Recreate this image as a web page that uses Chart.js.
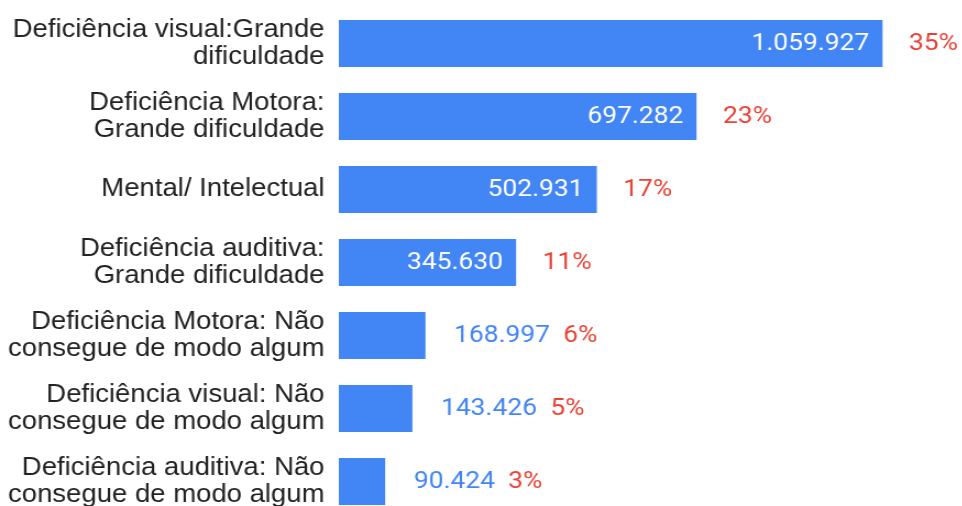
<!DOCTYPE html>
<html>
<head>
<meta charset="utf-8">
<script src="https://cdn.jsdelivr.net/npm/chart.js@4/dist/chart.umd.min.js"></script>
<style>
  html, body { margin: 0; padding: 0; background: #fff; overflow: hidden; }
  /* a imagem original é levemente esticada na horizontal */
  #wrap { position: relative; width: 875px; height: 520px; transform: scaleX(1.1); transform-origin: 0 0; }
</style>
</head>
<body>
<div id="wrap"><canvas id="myChart"></canvas></div>
<script>
// categorias (rótulos do eixo, quebrados em linhas)
var categorias = [
    ['Deficiência visual:Grande', 'dificuldade'],
    ['Deficiência Motora:', 'Grande dificuldade'],
    'Mental/ Intelectual',
    ['Deficiência auditiva:', 'Grande dificuldade'],
    ['Deficiência Motora: Não', 'consegue de modo algum'],
    ['Deficiência visual: Não', 'consegue de modo algum'],
    ['Deficiência auditiva: Não', 'consegue de modo algum']
];
var valores = [1059927, 697282, 502931, 345630, 168997, 143426, 90424];
var percentuais = ['35%', '23%', '17%', '11%', '6%', '5%', '3%'];

var AZUL = '#4285F4';
var VERMELHO = '#EA4335';

function fmt(n){
    return n.toString().replace(/\B(?=(\d{3})+(?!\d))/g, '.');
}

var rotulos = {
    id: 'rotulos',
    afterDatasetsDraw: function(chart){
        var ctx = chart.ctx;
        var meta = chart.getDatasetMeta(0);
        ctx.save();
        ctx.font = '24px Roboto';
        ctx.textBaseline = 'middle';
        meta.data.forEach(function(el, i){
            var txt = fmt(valores[i]);
            var w = ctx.measureText(txt).width;
            var pctX;
            if (el.x - el.base > w + 24) {
                ctx.fillStyle = '#fff';
                ctx.textAlign = 'right';
                ctx.fillText(txt, el.x - 12, el.y);
                pctX = el.x + 24;
            } else {
                ctx.fillStyle = AZUL;
                ctx.textAlign = 'left';
                ctx.fillText(txt, el.x + 26, el.y);
                pctX = el.x + 26 + w + 12;
            }
            ctx.fillStyle = VERMELHO;
            ctx.textAlign = 'left';
            ctx.fillText(percentuais[i], pctX, el.y);
        });
        ctx.restore();
    }
};

var ctx = document.getElementById('myChart').getContext('2d');
var myChart = new Chart(ctx, {
    type: 'bar',
    data: {
        labels: categorias,
        datasets: [{
            data: valores,
            backgroundColor: AZUL,
            borderWidth: 0,
            categoryPercentage: 1,
            barPercentage: 0.645
        }]
    },
    options: {
        indexAxis: 'y',
        responsive: true,
        maintainAspectRatio: false,
        animation: false,
        layout: { padding: { top: 7, bottom: 2, left: 0, right: 54 } },
        plugins: {
            legend: { display: false },
            tooltip: { enabled: false }
        },
        scales: {
            x: {
                display: false,
                min: 0,
                max: 1100000
            },
            y: {
                grid: { display: false, drawTicks: false },
                border: { display: false },
                ticks: {
                    color: '#222',
                    padding: 13,
                    autoSkip: false,
                    font: { family: '"Liberation Sans", Arial, sans-serif', size: 25, lineHeight: '27px' }
                },
                afterFit: function(scale){
                    scale.width = 308;
                    scale.paddingTop = 0;
                    scale.paddingBottom = 0;
                }
            }
        }
    },
    plugins: [rotulos]
});
</script>
</body>
</html>
